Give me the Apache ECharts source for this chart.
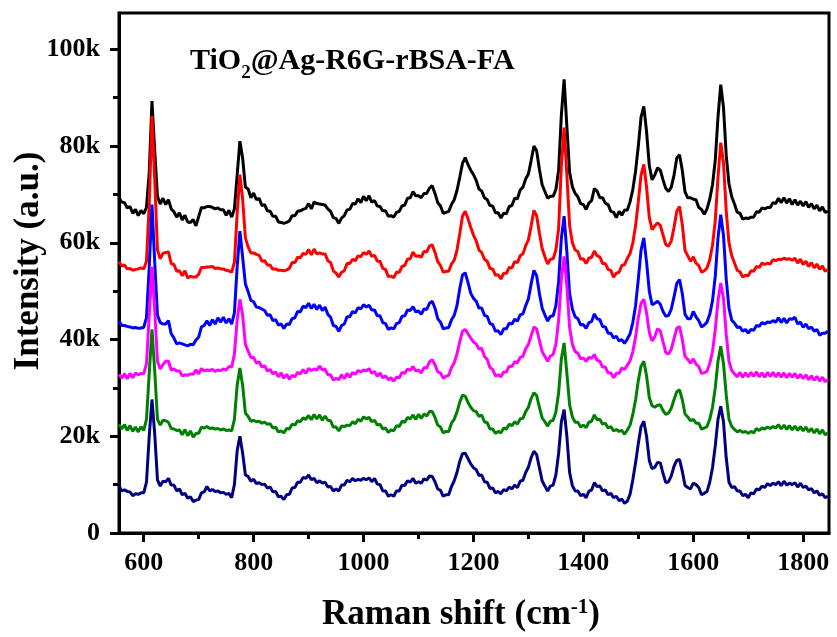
<!DOCTYPE html>
<html>
<head>
<meta charset="utf-8">
<script src="https://cdn.jsdelivr.net/npm/echarts@6/dist/echarts.min.js"></script>
<style>
  html, body { margin: 0; padding: 0; background: #fff; }
  #chart { width: 837px; height: 637px; }
</style>
</head>
<body>
<div id="chart"></div>
<script>
// Raman shift sampling: 555 to 1845 cm-1, every 5 cm-1
const shiftStart = 555;
const shiftStep = 5;

// Intensities in units of 1000 counts, one value per sample
const black = [
  69.3,68.4,68.3,67.2,67.5,66.1,66.9,65.6,66.7,66.0,67.3,74.5,89.3,79.0,69.6,68.0,69.2,67.9,68.9,67.0,
  66.4,65.3,66.2,64.7,65.7,64.3,64.2,64.8,63.5,65.4,67.3,67.2,67.5,67.5,67.3,67.0,67.2,66.8,66.8,65.7,
  66.7,65.3,67.0,74.0,81.0,77.5,71.5,71.1,69.3,70.3,68.9,69.2,67.7,67.9,66.6,66.5,65.5,65.5,64.3,64.2,
  64.0,64.2,64.5,65.6,65.6,66.5,66.6,66.9,67.1,68.1,67.0,68.4,68.1,68.0,67.9,67.8,67.0,66.5,65.2,65.0,
  64.0,65.1,65.6,66.8,66.9,68.1,68.0,69.1,68.3,69.6,68.7,69.7,68.4,68.7,67.6,67.5,66.6,66.6,65.5,65.6,
  65.3,66.3,66.5,67.6,67.8,69.2,69.3,70.6,69.7,69.7,69.3,70.2,70.2,71.3,71.8,70.2,68.3,67.6,66.1,66.3,
  66.5,67.9,68.9,70.8,73.5,76.4,77.6,76.2,75.0,74.1,72.9,71.1,70.7,69.3,68.9,67.7,67.6,66.2,66.2,65.1,
  66.1,66.0,67.5,67.7,69.2,69.1,70.9,71.5,73.2,74.2,77.0,80.0,79.0,75.2,72.0,70.6,69.2,69.6,69.6,71.0,
  75.0,86.5,93.8,84.0,74.5,71.6,70.2,69.5,68.1,67.9,66.9,68.2,68.7,71.2,70.7,69.3,69.3,68.2,67.9,66.5,
  66.3,65.2,66.5,65.7,66.8,66.7,68.5,71.0,74.8,80.0,86.0,88.2,83.0,76.0,73.0,74.0,75.5,75.0,73.0,71.2,
  70.6,71.5,74.0,77.5,78.2,75.0,70.5,69.3,69.3,69.0,68.9,67.3,66.9,65.9,67.0,69.0,72.0,77.0,86.0,92.7,
  88.0,78.0,72.2,69.5,68.0,66.3,66.1,64.9,65.1,65.0,65.3,65.3,66.4,66.3,67.2,67.0,67.3,67.3,68.3,68.1,
  69.2,68.3,69.3,68.2,69.1,67.9,68.9,67.8,68.6,67.6,68.5,67.3,68.1,67.0,67.8,66.6,67.4,66.3,66.5
];
const red = [
  56.1,55.2,55.4,54.6,54.7,54.3,54.5,54.6,54.8,54.6,56.2,68.0,86.2,73.0,58.5,56.7,57.8,58.0,58.1,55.7,
  55.5,54.1,54.2,53.2,54.2,52.7,53.1,52.9,52.9,53.5,54.9,54.9,55.0,55.0,55.1,54.7,54.8,54.6,54.6,54.3,
  54.2,53.9,56.0,66.0,74.1,69.0,61.0,59.1,57.9,57.9,57.6,57.4,56.2,56.3,55.4,55.4,54.5,54.6,54.3,54.3,
  54.2,54.4,54.7,55.9,55.9,57.0,56.9,57.8,57.6,58.6,57.5,58.7,57.7,57.9,57.7,57.7,56.3,55.9,54.2,53.7,
  52.9,53.9,54.2,55.7,55.7,56.6,56.3,57.3,57.1,58.0,57.6,58.3,57.2,57.4,56.2,56.2,54.7,54.5,53.0,53.1,
  52.8,53.9,53.9,55.1,55.3,56.6,56.7,58.1,57.2,57.3,57.0,58.2,58.1,59.3,59.6,58.0,56.1,55.3,53.9,54.1,
  54.1,55.6,56.4,58.5,61.8,65.5,66.5,65.0,63.2,61.6,60.4,58.5,58.0,56.6,56.2,54.7,54.6,53.3,53.4,52.5,
  53.7,53.7,54.9,54.8,56.1,55.9,57.3,57.7,59.4,60.6,63.5,66.7,65.6,62.0,58.8,57.1,55.6,56.6,56.7,58.5,
  63.0,76.0,83.8,74.0,63.5,60.0,58.5,58.2,56.6,56.7,55.7,56.8,57.0,58.3,57.3,57.1,55.7,55.7,54.5,54.3,
  52.9,53.7,53.9,55.3,55.5,56.8,57.8,60.0,63.5,68.5,74.0,76.2,71.5,65.2,62.7,63.5,64.1,63.6,61.6,59.6,
  59.3,60.4,63.2,66.5,67.5,63.8,58.4,57.3,56.2,57.1,55.8,55.3,53.9,54.2,54.8,56.5,59.5,64.5,73.5,80.7,
  76.5,66.5,60.0,57.3,55.8,54.3,54.0,52.9,53.3,53.2,54.2,54.1,55.1,54.9,55.8,55.5,55.8,55.6,56.5,56.3,
  56.6,56.5,56.8,56.6,56.7,56.4,56.8,55.8,56.6,55.5,56.2,55.1,55.9,54.8,55.6,54.5,55.2,54.1,54.5
];
const blue = [
  43.9,42.9,42.9,42.7,42.6,42.4,42.5,42.3,42.4,42.5,44.5,55.0,67.9,56.0,45.0,43.5,43.2,43.2,43.9,41.2,
  40.3,39.1,39.3,39.1,38.9,38.7,39.0,38.9,39.9,40.5,42.6,42.9,43.9,42.9,44.1,43.2,44.5,43.6,44.6,43.4,
  44.3,43.2,45.5,55.0,62.4,57.0,51.5,49.9,48.1,47.8,46.7,46.6,46.3,46.0,45.0,45.1,43.9,44.1,43.0,43.2,
  42.3,43.2,43.1,44.3,44.5,45.8,45.7,46.9,46.6,47.5,46.4,47.3,46.2,47.1,46.0,46.7,45.2,44.6,42.9,42.7,
  41.7,42.9,43.2,44.7,44.7,45.8,45.5,46.6,46.3,47.2,46.7,47.1,46.1,46.1,44.9,44.9,43.5,43.3,42.1,42.4,
  42.2,43.3,43.5,44.8,44.9,46.1,46.0,46.8,45.7,45.9,45.2,46.3,46.2,47.5,47.9,46.5,44.3,43.6,42.2,42.4,
  42.5,44.1,45.0,47.0,50.5,53.3,53.8,51.8,49.6,48.5,47.9,46.5,46.5,45.0,44.8,43.3,43.1,41.7,41.8,41.0,
  42.2,42.2,43.4,43.2,44.2,43.8,45.1,45.3,47.0,48.4,51.5,54.3,53.2,49.5,46.5,45.1,43.8,44.8,44.9,47.0,
  52.0,61.0,65.5,58.0,49.5,46.3,44.7,44.3,43.0,43.1,42.3,43.5,43.7,45.3,44.3,44.1,42.7,42.6,41.3,41.3,
  40.3,40.7,39.7,40.0,39.2,40.1,41.2,43.5,47.0,52.5,58.5,61.0,56.0,50.0,47.2,47.5,47.9,47.3,45.8,44.8,
  45.0,46.3,48.8,51.6,52.4,49.5,45.2,44.3,44.3,45.8,44.7,43.9,42.6,43.0,43.6,45.2,48.0,53.0,61.0,65.8,
  61.5,52.5,46.5,44.0,43.4,42.5,42.6,41.7,42.1,41.3,42.1,41.9,42.9,42.7,43.5,43.2,43.6,43.5,43.9,43.6,
  44.5,43.5,44.4,43.4,44.3,44.2,44.6,43.2,43.6,42.5,43.2,42.2,42.6,41.7,42.1,40.9,41.3,41.3,41.7
];
const magenta = [
  32.8,32.0,32.9,31.9,33.0,32.1,33.1,32.7,33.0,32.9,35.0,45.0,55.0,46.0,35.5,33.9,34.8,35.5,35.5,33.7,
  33.9,33.5,33.5,32.5,32.7,32.6,32.9,32.8,33.7,32.9,34.0,33.5,33.7,33.6,33.8,33.4,33.7,33.6,33.9,33.7,
  34.4,34.3,37.0,44.0,48.3,45.0,39.0,37.6,36.3,36.3,35.1,35.4,34.3,34.6,33.5,33.8,32.9,33.3,32.3,33.1,
  32.0,32.8,31.8,32.6,32.3,33.2,32.9,33.8,33.0,34.0,33.6,33.9,33.7,34.5,33.7,33.9,32.7,32.7,31.6,32.0,
  31.7,32.7,31.9,33.0,32.2,33.2,32.8,33.6,33.3,33.7,33.5,34.0,33.0,33.4,32.4,33.1,32.1,32.5,31.7,32.1,
  31.4,32.2,32.1,33.2,33.0,33.9,33.6,34.4,33.5,33.7,33.1,34.2,34.1,35.4,35.8,34.8,33.3,33.1,32.0,32.4,
  32.6,34.2,35.2,37.0,39.5,41.7,42.1,41.2,40.3,39.5,39.1,38.0,38.2,36.5,35.9,34.2,33.8,32.5,32.7,32.3,
  33.3,33.3,34.5,34.4,35.4,35.2,36.3,36.5,38.1,39.0,40.8,42.6,42.2,39.8,37.5,36.5,35.5,36.6,36.9,39.0,
  44.0,52.5,57.2,51.0,42.5,39.0,37.5,37.2,36.0,36.2,35.5,36.3,36.1,36.9,35.7,35.5,34.3,34.3,33.1,33.1,
  32.1,33.0,33.0,34.1,33.8,34.7,35.6,37.5,40.5,44.5,47.5,48.3,45.5,41.5,39.7,40.6,42.2,41.8,39.5,37.3,
  37.0,38.0,40.2,42.3,42.7,40.0,36.5,35.9,35.1,36.0,34.9,34.4,33.0,33.1,33.5,35.0,37.5,42.0,48.0,51.7,
  48.5,41.0,35.5,33.6,32.9,32.3,33.2,32.2,33.1,32.3,33.2,32.4,33.3,32.3,33.1,32.2,33.2,32.4,33.2,32.3,
  33.1,32.2,33.1,32.1,33.0,32.2,33.0,32.0,32.8,31.9,32.7,31.7,32.5,31.6,32.4,31.4,32.2,31.3,31.7
];
const green = [
  22.5,21.5,22.4,21.2,22.2,21.0,21.9,20.9,22.0,21.2,23.5,33.0,42.1,33.5,23.5,22.3,23.3,23.2,22.9,21.6,
  21.5,21.2,21.3,20.3,21.4,20.1,21.1,19.8,20.6,20.6,21.9,21.7,22.0,21.6,21.7,21.5,21.6,21.3,21.5,21.2,
  21.3,21.1,23.5,30.5,34.1,30.5,24.8,24.1,23.1,23.3,23.0,23.1,22.7,22.9,22.5,22.6,21.7,21.9,20.9,21.1,
  20.7,21.6,21.5,22.5,22.3,23.2,23.0,23.8,23.5,24.3,23.4,24.5,23.6,24.4,23.3,24.2,23.3,23.2,21.9,21.9,
  21.1,22.1,22.0,22.3,22.2,23.0,22.6,23.5,23.1,24.0,23.6,23.9,23.0,23.3,22.3,22.5,21.5,21.7,20.8,21.3,
  21.1,22.2,22.0,23.1,22.9,23.9,23.6,24.4,23.5,24.5,23.7,24.6,24.2,25.1,25.1,23.9,22.3,21.9,20.7,21.0,
  21.0,22.7,23.5,25.0,27.0,28.5,28.3,27.0,26.0,25.3,25.1,24.1,24.4,23.0,22.8,21.5,21.5,20.6,21.0,20.7,
  21.7,21.5,22.5,22.2,23.0,22.5,23.6,23.7,25.1,26.0,27.8,29.0,28.4,26.0,23.8,23.0,22.1,23.1,23.3,25.0,
  29.0,36.0,39.3,33.0,26.5,24.0,22.9,22.9,21.9,22.3,21.8,22.9,23.1,24.4,23.4,23.5,22.5,22.7,21.7,22.0,
  21.1,21.4,21.0,21.2,20.4,21.3,22.3,24.5,27.5,31.5,34.5,35.5,32.5,28.0,26.3,26.0,26.4,26.5,25.3,24.5,
  24.8,25.8,27.6,29.2,29.6,27.6,24.6,24.0,23.2,23.5,22.7,22.7,21.5,21.7,22.0,23.5,26.0,30.0,35.5,38.6,
  35.0,28.5,23.5,22.0,21.4,20.9,21.2,20.8,21.0,20.6,21.0,20.7,21.6,21.2,21.7,21.5,21.9,21.6,22.0,21.7,
  22.4,21.5,22.3,21.4,22.2,21.3,22.1,21.2,22.0,21.1,21.9,20.9,21.6,20.7,21.5,20.5,21.3,20.3,20.7
];
const navy = [
  9.7,8.7,8.9,8.6,8.5,7.7,8.1,8.0,8.3,8.3,10.5,20.0,27.6,20.5,11.0,9.7,10.7,10.6,11.3,9.9,
  9.9,8.7,9.1,7.9,8.2,7.2,7.5,6.5,6.8,6.9,8.3,8.5,9.6,8.7,9.0,8.6,8.7,8.3,8.4,8.0,
  8.2,7.3,10.0,17.0,20.0,16.5,12.0,11.7,10.7,11.1,10.2,10.4,10.0,10.1,9.3,9.5,8.5,8.6,7.5,7.6,
  6.9,7.9,8.0,9.3,9.4,10.5,10.5,11.5,11.3,12.0,11.0,11.3,10.4,10.8,10.3,10.5,9.5,9.6,8.7,9.1,
  8.7,9.9,9.9,10.9,10.6,11.3,10.8,11.1,10.9,11.3,11.0,11.4,10.6,11.3,10.1,10.0,8.7,8.7,7.6,7.9,
  7.6,8.7,8.7,9.9,9.8,10.8,10.5,11.3,10.3,10.6,10.3,11.2,10.9,11.8,11.7,10.6,9.1,8.8,7.6,7.9,
  7.9,9.6,10.8,12.5,14.8,16.4,16.5,15.4,14.3,13.5,13.1,11.9,12.0,10.6,10.5,9.2,9.3,8.3,8.6,8.1,
  9.0,8.7,9.5,9.1,9.9,9.4,10.7,10.9,12.5,13.6,15.6,16.9,16.2,13.5,10.8,9.7,8.7,9.7,9.9,12.0,
  16.5,23.0,25.5,20.0,12.5,9.8,8.7,8.7,7.7,8.0,7.3,8.6,8.9,10.4,9.6,9.7,8.7,8.9,7.9,8.2,
  7.3,7.6,6.7,7.0,6.1,6.6,8.0,11.0,14.5,18.5,22.0,23.1,20.0,15.0,13.3,13.6,14.6,14.5,12.3,10.4,
  10.6,11.8,13.8,15.0,15.2,12.8,9.8,9.4,9.1,10.3,10.0,9.4,7.9,8.2,8.6,10.5,13.5,18.0,23.5,26.2,
  23.0,15.5,10.5,9.4,9.6,8.7,8.7,7.7,8.0,7.3,8.3,8.1,9.1,8.9,9.7,9.4,10.2,9.8,10.3,10.0,
  10.6,9.8,10.7,9.9,10.3,10.0,10.4,9.5,10.3,9.4,9.7,8.9,9.2,8.3,8.7,7.8,8.1,7.3,7.6
];

// Tick positions
const xMajorTicks = [600, 800, 1000, 1200, 1400, 1600, 1800];
const xMinorTicks = [700, 900, 1100, 1300, 1500, 1700];
const yMajorTicks = [0, 20, 40, 60, 80, 100];
const yMinorTicks = [10, 30, 50, 70, 90];

const spectra = [
  { name: 'black', values: black, color: '#000000' },
  { name: 'red', values: red, color: '#ff0000' },
  { name: 'blue', values: blue, color: '#0000ff' },
  { name: 'magenta', values: magenta, color: '#ff00ff' },
  { name: 'green', values: green, color: '#008000' },
  { name: 'navy', values: navy, color: '#000080' }
];

const shift = black.map((_, i) => shiftStart + i * shiftStep);

const FONT = '"Liberation Serif", "Times New Roman", serif';
const X_MIN = 555, X_MAX = 1847, Y_MIN = 0, Y_MAX = 107.5;

const chart = echarts.init(document.getElementById('chart'), null, { renderer: 'canvas' });

const tickLabel = { fontFamily: FONT, fontWeight: 'bold', fontSize: 26, color: '#000' };

chart.setOption({
  animation: false,
  backgroundColor: '#ffffff',
  title: {
    left: 190,
    top: 39,
    padding: 0,
    text: '{b|TiO}{s|2}{b|@Ag-R6G-rBSA-FA}',
    textStyle: {
      rich: {
        b: { fontFamily: FONT, fontWeight: 'bold', fontSize: 30, color: '#000', lineHeight: 34 },
        s: { fontFamily: FONT, fontWeight: 'bold', fontSize: 19, color: '#000', lineHeight: 44, verticalAlign: 'bottom' }
      }
    }
  },
  // vertical axis title, centred beside the plot
  graphic: [
    {
      type: 'text',
      x: 29,
      y: 261,
      rotation: Math.PI / 2,
      style: {
        text: 'Intensity (a.u.)',
        fontFamily: FONT,
        fontWeight: 'bold',
        fontSize: 35,
        fill: '#000',
        align: 'center',
        verticalAlign: 'middle'
      }
    }
  ],
  grid: {
    left: 119, right: 8, top: 13, bottom: 104,
    containLabel: false,
    outerBoundsMode: 'none',
    show: true, borderColor: '#000', borderWidth: 3, backgroundColor: 'transparent'
  },
  xAxis: [
    {
      type: 'value', min: X_MIN, max: X_MAX, position: 'bottom',
      name: '{a|Raman shift (cm}{sup|-1}{a|)}',
      nameLocation: 'middle', nameGap: 62,
      nameTextStyle: {
        padding: [0, 26, 0, 0],
        rich: {
          a: { fontFamily: FONT, fontWeight: 'bold', fontSize: 35, color: '#000', lineHeight: 40 },
          sup: { fontFamily: FONT, fontWeight: 'bold', fontSize: 21, color: '#000', lineHeight: 40, verticalAlign: 'top', padding: [2, 0, 0, 0] }
        }
      },
      axisLine: { show: true, onZero: false, lineStyle: { color: '#000', width: 3 } },
      axisTick: { show: true, customValues: xMajorTicks, length: 9, lineStyle: { color: '#000', width: 3 } },
      axisLabel: Object.assign({ customValues: xMajorTicks, margin: 17, formatter: v => String(v) }, tickLabel),
      splitLine: { show: false }
    },
    {
      type: 'value', min: X_MIN, max: X_MAX, position: 'bottom',
      axisLine: { show: false },
      axisTick: { show: true, customValues: xMinorTicks, length: 6, lineStyle: { color: '#000', width: 3 } },
      axisLabel: { show: false },
      splitLine: { show: false }
    }
  ],
  yAxis: [
    {
      type: 'value', min: Y_MIN, max: Y_MAX, position: 'left',
      axisLine: { show: true, onZero: false, lineStyle: { color: '#000', width: 3 } },
      axisTick: { show: true, customValues: yMajorTicks, length: 9, lineStyle: { color: '#000', width: 3 } },
      axisLabel: Object.assign({
        customValues: yMajorTicks, margin: 19,
        formatter: v => (v === 0 ? '0' : v + 'k')
      }, tickLabel),
      splitLine: { show: false }
    },
    {
      type: 'value', min: Y_MIN, max: Y_MAX, position: 'left',
      axisLine: { show: false },
      axisTick: { show: true, customValues: yMinorTicks, length: 6, lineStyle: { color: '#000', width: 3 } },
      axisLabel: { show: false },
      splitLine: { show: false }
    }
  ],
  series: spectra.map(s => ({
    name: s.name,
    type: 'line',
    xAxisIndex: 0,
    yAxisIndex: 0,
    data: shift.map((x, i) => [x, s.values[i]]),
    showSymbol: false,
    symbol: 'none',
    lineStyle: { color: s.color, width: 3 },
    itemStyle: { color: s.color },
    silent: true,
    z: 2
  }))
});
</script>
</body>
</html>
